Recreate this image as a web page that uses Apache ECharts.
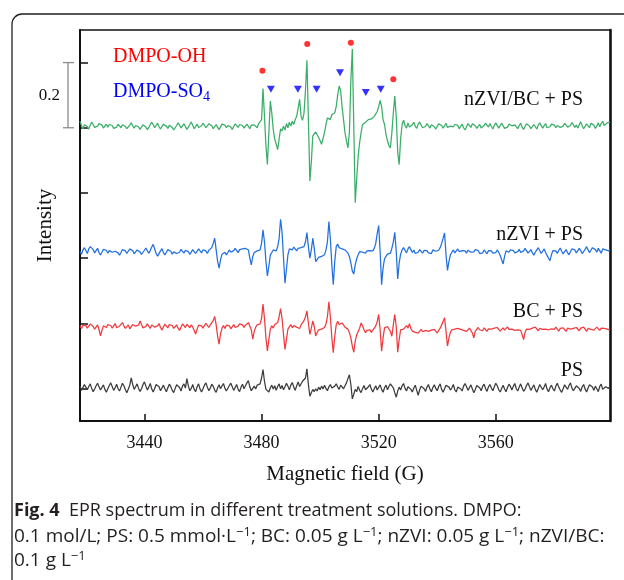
<!DOCTYPE html>
<html>
<head>
<meta charset="utf-8">
<script src="https://cdn.jsdelivr.net/npm/echarts@6/dist/echarts.min.js"></script>
<style>
  html, body { margin: 0; padding: 0; background: #ffffff; }
  #chart { width: 624px; height: 580px; }
</style>
</head>
<body>
<div id="chart"></div>
<script>
// First-derivative EPR spectra, sampled every 0.5 G starting at 3418 G.
// Intensities are relative to each trace's own baseline (axis units x 1000).
const fieldStart = 3418;
const fieldStep = 0.5;

const nzviBcPs = [
  15,2,-8,4,10,-2,-9,3,12,5,-4,-10,0,8,14,3,-6,-2,6,-3,
  5,11,2,-7,-12,-3,6,2,-5,4,9,-1,-8,-4,3,10,1,-6,2,7,
  -2,-10,-5,4,8,-3,-11,-4,5,12,4,-5,1,9,-2,-9,-3,6,11,0,
  -7,3,8,-4,-12,-5,2,10,3,-6,0,7,-1,-10,-3,5,13,2,-8,-2,
  6,-4,-9,1,9,4,-5,-2,7,12,1,-8,-3,5,-4,-11,-2,6,10,3,
  -5,2,8,-3,-10,-1,7,3,-4,5,11,2,-6,-2,6,0,-8,3,9,4,
  0,-5,8,5,20,115,30,-60,-118,-20,77,40,-10,-40,-55,-72,-40,-8,-15,0,
  -12,8,-5,12,0,15,5,20,30,55,82,30,18,40,110,202,20,-168,-110,-30,
  -25,-18,-22,-35,-45,-56,-51,-20,5,25,31,20,35,30,41,60,95,123,110,60,
  20,-20,-45,-67,-20,140,237,0,-235,-160,-92,-50,-20,5,0,12,8,20,15,22,
  18,30,35,45,60,79,60,20,5,-25,-45,-60,-67,-20,40,92,30,-80,-118,-40,
  5,18,2,-6,10,-3,-9,4,12,0,-7,6,13,3,-5,-11,-1,8,2,-6,
  4,10,-2,-9,-3,7,12,2,-6,1,9,-4,-10,0,6,-2,5,11,3,-8,
  -3,6,-5,-12,-2,8,3,-4,7,13,1,-7,-1,5,-6,-10,2,9,4,-3,
  8,-1,-9,2,10,5,-6,-2,9,3,-7,-13,-3,6,11,1,-5,4,-2,-8,
  2,9,-3,-10,-1,7,12,0,-8,-4,5,-2,-9,3,10,4,-6,1,8,-5,
  -11,-2,6,12,3,-5,2,8,-4,-10,0,9,5,-3,-9,2,11,6,-4,3,
  -6,4,13,1,-8,-3,7,2,-5,9,14,3,-7,0,10,-2,8,15,2,6,
  10,4,12
];

const nzviPs = [
  0,-8,5,12,3,-6,8,15,20,6,-4,2,10,-3,-10,-2,7,12,4,-5,
  3,9,-2,-8,1,7,-4,-11,-3,6,10,2,-6,0,8,12,3,-7,-2,5,
  9,-1,-9,-4,4,11,2,-5,3,14,22,8,-6,-14,-8,2,9,-3,-10,-2,
  6,12,1,-8,-1,5,-6,-12,-2,7,3,-5,4,10,0,-9,-3,6,2,-6,
  -1,8,3,-4,5,11,2,-6,4,9,12,25,41,5,-30,-51,-25,-8,-14,-2,
  -10,-3,5,-2,-8,3,10,4,-3,6,12,8,2,10,15,5,-20,-41,-15,-3,
  -5,2,-4,5,25,67,30,-30,-75,-45,-10,-3,5,8,2,15,40,99,60,-20,
  -97,-55,-10,8,12,5,14,8,2,10,6,12,8,15,30,58,15,-20,5,41,
  10,-31,-25,-18,-22,-15,-20,-10,5,30,92,40,-40,-102,-30,15,23,12,18,8,
  12,5,2,-5,-15,-35,-60,-69,-40,-22,-10,0,5,-2,3,-5,2,8,3,6,
  2,10,25,55,80,0,-102,-50,-22,-15,-8,-12,-5,10,30,59,0,-84,-35,-8,
  5,12,4,-4,8,15,6,-3,5,-6,-12,-2,6,2,-5,4,10,3,-4,2,
  -6,5,9,1,-3,4,12,25,40,57,-10,-58,-30,-10,-2,5,-4,2,8,0,
  -6,3,9,2,-5,4,10,-2,-8,-1,6,12,3,-6,-12,-4,5,1,-7,3,
  9,2,-5,-10,-3,5,-2,-12,-25,-38,-15,2,6,-2,5,11,3,-4,-9,0,
  7,-3,-8,2,10,4,-5,-1,6,-4,-11,-2,5,12,3,-6,1,8,-3,-9,
  -20,-28,-10,3,9,2,-6,4,11,1,-7,-2,6,-3,-10,0,8,14,5,-4,
  2,10,3,-6,-1,7,15,6,-3,4,12,18,6,-2,10,4,-5,8,14,5,
  9,2,6
];

const bcPs = [
  2,-6,4,10,3,-5,-2,8,12,0,-8,-4,5,-10,-29,-12,2,8,-3,6,
  11,3,-5,2,9,-4,-10,1,7,12,2,-6,-1,5,-7,-3,6,10,1,-5,
  4,17,6,-4,-9,0,8,3,-6,5,11,-2,-8,2,9,-3,-11,-1,7,2,
  -4,6,12,3,-6,-1,5,-5,-12,-2,8,4,-3,7,1,-4,5,-2,-12,-23,
  -8,4,9,2,-5,3,10,4,-3,5,10,18,31,5,-30,-54,-22,-5,3,-6,
  4,10,2,-7,-2,6,-3,-9,1,8,14,5,-3,4,8,12,17,-10,-39,-15,
  -2,5,0,8,25,69,25,-35,-75,-40,-8,2,-5,6,0,12,30,55,25,-25,
  -70,-40,-8,-2,6,-4,3,9,-2,4,-6,5,10,18,30,48,10,-24,-5,17,
  0,-29,-18,-10,-15,-8,-12,-3,8,30,76,30,-35,-80,-30,5,16,6,2,11,
  8,-2,4,-8,-19,-35,-60,-79,-45,-25,-19,-5,11,2,-10,-19,-12,-16,-10,-18,
  -12,-5,2,15,37,-10,-76,-35,-4,-8,0,5,-15,-30,5,37,0,-79,-40,-10,
  -4,-8,-2,3,-5,9,-6,-14,-10,-18,-12,-20,-14,-9,-16,-22,-12,-8,-15,-19,
  -11,-16,-9,-14,-20,-12,-5,5,15,27,-15,-60,-35,-18,-10,-14,-8,-13,-6,-12,
  -9,-4,-12,-7,-15,-10,-5,-11,-20,-35,-14,-8,-3,-10,-6,-13,-4,-9,-15,-7,
  -2,-8,-13,-5,-10,-3,-7,-14,-9,-4,-11,-6,-1,-9,-15,-8,-3,-12,-6,-10,
  -4,-12,-25,-40,-18,-8,-3,-9,-14,-5,-10,-2,-7,-13,-6,-1,-9,-15,-8,-4,
  -10,-16,-7,-3,-9,-2,-8,-14,-6,-11,-4,-9,-15,-5,-1,-8,-12,-6,-10,-3,
  -7,-13,-5,-10,-2,-8,-15,-6,-3,-9,-4,-11,-7,-2,-8,-12,-5,-9,-6,-10,
  -8,-3,-11
];

const psOnly = [
  5,-8,-3,10,2,-6,4,12,-2,-12,-4,6,14,3,-7,-1,9,-5,-14,-3,
  7,15,4,-8,0,11,-3,-10,2,14,6,-6,-15,-4,8,30,10,-5,3,12,
  -2,-11,-3,9,18,5,-7,2,13,-4,-13,-2,10,16,3,-9,-4,8,-3,-12,
  0,11,4,-8,-15,-2,9,14,1,-10,5,12,-1,28,6,-9,-2,10,-5,-12,
  3,12,-4,-13,-3,8,15,2,-9,-1,11,4,-7,-14,0,9,-3,6,13,-2,
  -10,-4,7,14,3,-8,1,10,-5,-12,2,11,-3,6,15,22,3,-9,-2,5,
  -4,8,2,12,30,56,20,-5,-10,-13,0,8,-4,6,-8,4,12,-3,7,-6,
  3,14,5,-6,8,16,2,-8,6,18,4,10,20,14,30,58,10,-26,-15,-5,
  -12,-3,-10,2,-6,5,-4,8,-2,-9,3,10,-1,-7,5,12,2,-5,8,4,
  -3,6,15,28,40,10,-34,-20,-5,-12,4,-8,-15,-2,7,-6,-12,3,10,-4,
  -13,-3,6,-7,-2,9,-5,-14,0,8,-6,4,12,17,0,-15,-29,-10,2,-7,
  6,13,-2,-10,3,9,-5,-13,-1,8,-8,-23,-6,5,11,-3,-11,2,10,-4,
  -12,1,9,-2,-9,4,12,-5,-14,-3,8,14,2,-7,0,10,-6,-13,2,7,
  -3,-10,5,13,3,-8,-2,9,-4,-15,-5,7,12,0,-9,4,11,-2,-11,3,
  10,-1,-9,3,14,6,-6,-13,-2,8,-4,-12,1,11,4,-7,5,13,-3,-10,
  2,12,-1,-11,-4,7,15,3,-8,1,9,-5,-14,-2,10,5,-6,2,13,-4,
  -12,0,8,-3,-10,5,14,2,-7,-14,-3,9,4,-5,7,15,-1,-9,-2,6,
  12,-2,-11,3,10,-4,-13,-1,9,14,2,-8,5,-3,-12,4,11,-5,-9,3,
  6,-2,4
];

// Vertical stacking of the four traces (baseline of each trace)
const traceNames = ['nZVI/BC + PS', 'nZVI + PS', 'BC + PS', 'PS'];
const traceOffsets = [805, 420, 190, 2];
const traceColors = ['#3aae68', '#2270e0', '#f03a3e', '#3c3c3c'];
const traceValues = [nzviBcPs, nzviPs, bcPs, psOnly];

// Peak assignments: DMPO-OH (circles) and DMPO-SO4 (triangles)
const ohField = [3480.3, 3495.6, 3510.5, 3525.0];
const ohHeight = [975, 1057, 1061, 949];
const so4Field = [3483.2, 3492.4, 3498.8, 3506.8, 3515.6, 3520.7];
const so4Height = [918, 918, 918, 969, 908, 918];

// Axes
const fieldMin = 3418, fieldMax = 3599;
const fieldTicks = [3440, 3480, 3520, 3560];
const intensityMin = -100, intensityMax = 1100;
const intensityTicks = [0, 200, 400, 600, 800, 1000];
const scaleBar = [800, 1000];   // 0.2 intensity units

const serif = '"Liberation Serif", "Times New Roman", serif';
const chart = echarts.init(document.getElementById('chart'), null, { renderer: 'canvas' });

const series = traceValues.map((vals, k) => ({
  type: 'line',
  name: traceNames[k],
  data: vals.map((v, i) => [fieldStart + i * fieldStep, traceOffsets[k] + v]),
  showSymbol: false,
  symbol: 'none',
  smooth: false,
  lineStyle: { color: traceColors[k], width: 1.25 },
  z: 3
}));

series.push({
  type: 'scatter',
  data: ohField.map((f, i) => [f, ohHeight[i]]),
  symbol: 'circle',
  symbolSize: 6,
  itemStyle: { color: '#ff0000' },
  z: 4
});
series.push({
  type: 'scatter',
  data: so4Field.map((f, i) => [f, so4Height[i]]),
  symbol: 'triangle',
  symbolRotate: 180,
  symbolSize: [8, 7],
  itemStyle: { color: '#0000ff' },
  z: 4
});

const option = {
  animation: false,
  backgroundColor: '#ffffff',
  grid: { left: 80, top: 30, width: 530, height: 391, show: false },
  xAxis: [{
    type: 'value', min: fieldMin, max: fieldMax, position: 'bottom',
    name: 'Magnetic field (G)', nameLocation: 'middle', nameGap: 43,
    nameTextStyle: { fontFamily: serif, fontSize: 21, color: '#111' },
    axisLine: { show: true, onZero: false, lineStyle: { color: '#111', width: 2 } },
    axisTick: { show: true, inside: true, length: 7, customValues: fieldTicks, lineStyle: { color: '#111', width: 1.5 } },
    axisLabel: { show: true, customValues: fieldTicks, margin: 13, fontFamily: serif, fontSize: 18, color: '#111',
                 formatter: v => String(v) },
    splitLine: { show: false }
  }, {
    type: 'value', min: fieldMin, max: fieldMax, position: 'top',
    axisLine: { show: true, onZero: false, lineStyle: { color: '#111', width: 1.6 } },
    axisTick: { show: false }, axisLabel: { show: false }, splitLine: { show: false }
  }],
  yAxis: [{
    type: 'value', min: intensityMin, max: intensityMax, position: 'left',
    name: 'Intensity', nameLocation: 'middle', nameGap: 24, nameRotate: 90,
    nameTextStyle: { fontFamily: serif, fontSize: 21, color: '#111' },
    axisLine: { show: true, onZero: false, lineStyle: { color: '#111', width: 2 } },
    axisTick: { show: true, inside: true, length: 8, customValues: intensityTicks, lineStyle: { color: '#111', width: 1.5 } },
    axisLabel: { show: false },
    splitLine: { show: false }
  }, {
    type: 'value', min: intensityMin, max: intensityMax, position: 'right',
    axisLine: { show: true, onZero: false, lineStyle: { color: '#111', width: 2.6 } },
    axisTick: { show: false }, axisLabel: { show: false }, splitLine: { show: false }
  }],
  series: series
};

chart.setOption(option);

// Overlay: card outline, scale bar, trace names, peak legend, caption
const barTop = chart.convertToPixel({ yAxisIndex: 0 }, scaleBar[1]);
const barBot = chart.convertToPixel({ yAxisIndex: 0 }, scaleBar[0]);
const barX = 68;

const measure = document.createElement('canvas').getContext('2d');
measure.font = '20px ' + serif;
const so4Width = measure.measureText('DMPO-SO').width;

const textEl = (text, x, y, opts) => ({
  type: 'text', silent: true, z: 10,
  style: Object.assign({
    text: text, x: x, y: y,
    font: '20px ' + serif, fill: '#111',
    align: 'left', verticalAlign: 'middle',
    textAlign: 'left', textVerticalAlign: 'middle'
  }, opts || {})
});

const traceLabelY = [100, 235, 312, 371];
const graphics = [
  { type: 'rect', silent: true, z: -5,
    shape: { x: 12, y: 14, width: 700, height: 700, r: 10 },
    style: { fill: 'none', stroke: '#231f20', lineWidth: 1.3 } },
  { type: 'line', silent: true, shape: { x1: barX, y1: barTop, x2: barX, y2: barBot }, style: { stroke: '#8c8c8c', lineWidth: 1.3 } },
  { type: 'line', silent: true, shape: { x1: barX - 5, y1: barTop, x2: barX + 6, y2: barTop }, style: { stroke: '#8c8c8c', lineWidth: 1.3 } },
  { type: 'line', silent: true, shape: { x1: barX - 5, y1: barBot, x2: barX + 6, y2: barBot }, style: { stroke: '#8c8c8c', lineWidth: 1.3 } },
  textEl('0.2', 60, (barTop + barBot) / 2, { align: 'right', textAlign: 'right', font: '17px ' + serif }),
  textEl('DMPO-OH', 113, 57, { fill: '#ff0000' }),
  textEl('DMPO-SO', 113, 92, { fill: '#0000ff' }),
  textEl('4', 113 + so4Width, 97, { fill: '#0000ff', font: '14px ' + serif })
];
traceNames.forEach((name, k) => {
  graphics.push(textEl(name, 583, traceLabelY[k], { align: 'right', textAlign: 'right' }));
});

const capFamily = '"Open Sans", "Noto Sans", sans-serif';
const capRich = (size) => ({
  b: { fontWeight: 'bold', fontSize: size, fontFamily: capFamily, fill: '#231f20', lineHeight: 22 },
  s: { fontSize: 13, fontFamily: capFamily, fill: '#231f20', lineHeight: 12, verticalAlign: 'top' }
});
graphics.push(textEl('{b|Fig. 4}  EPR spectrum in different treatment solutions. DMPO:', 14, 511,
  { font: '18px ' + capFamily, fill: '#231f20', rich: capRich(18), lineHeight: 22 }));
graphics.push(textEl('0.1 mol/L; PS: 0.5 mmol·L{s|\u22121}; BC: 0.05 g L{s|\u22121}; nZVI: 0.05 g L{s|\u22121}; nZVI/BC:', 14, 537,
  { font: '19px ' + capFamily, fill: '#231f20', rich: capRich(19), lineHeight: 22 }));
graphics.push(textEl('0.1 g L{s|\u22121}', 14, 561,
  { font: '19px ' + capFamily, fill: '#231f20', rich: capRich(19), lineHeight: 22 }));

chart.setOption({ graphic: graphics });
</script>
</body>
</html>
